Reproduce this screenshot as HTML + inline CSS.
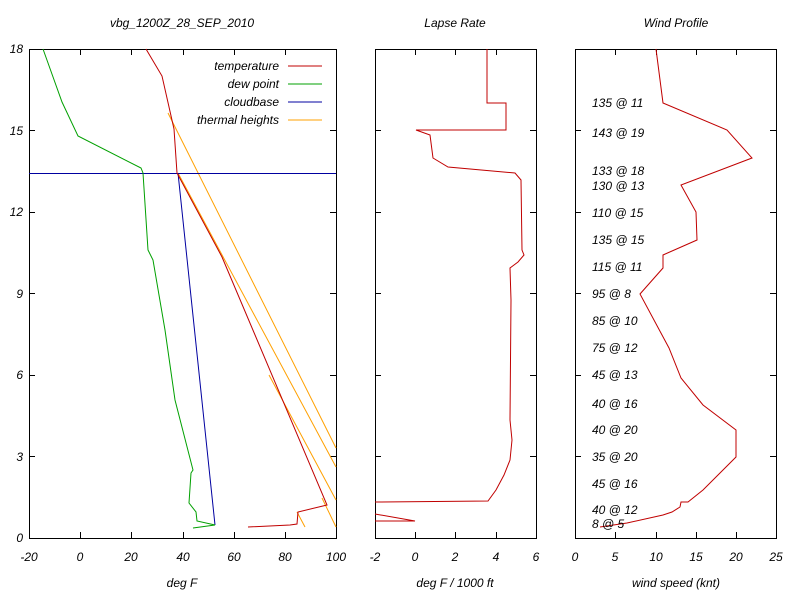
<!DOCTYPE html>
<html><head><style>body{margin:0;background:#fff}svg{display:block}text{font-family:"Liberation Sans",sans-serif;font-style:italic;font-size:12px;fill:#000}</style></head><body>
<svg width="803" height="601" viewBox="0 0 803 601">
<g fill="none" stroke="#000" stroke-width="1">
<rect x="29.5" y="49.5" width="307" height="489"/>
<rect x="375.5" y="49.5" width="161" height="489"/>
<rect x="575.5" y="49.5" width="201" height="489"/>
<path d="M29 130.5h6M29 212.5h6M29 293.5h6M29 375.5h6M29 456.5h6M336 130.5h-6M336 212.5h-6M336 293.5h-6M336 375.5h-6M336 456.5h-6
M375 130.5h6M375 212.5h6M375 293.5h6M375 375.5h6M375 456.5h6M536 130.5h-6M536 212.5h-6M536 293.5h-6M536 375.5h-6M536 456.5h-6
M575 130.5h6M575 212.5h6M575 293.5h6M575 375.5h6M575 456.5h6M776 130.5h-6M776 212.5h-6M776 293.5h-6M776 375.5h-6M776 456.5h-6
M80.5 538v-6M131.5 538v-6M183.5 538v-6M234.5 538v-6M285.5 538v-6M80.5 49v6M131.5 49v6M183.5 49v6M234.5 49v6M285.5 49v6
M415.5 538v-6M455.5 538v-6M496.5 538v-6M415.5 49v6M455.5 49v6M496.5 49v6
M615.5 538v-6M656.5 538v-6M696.5 538v-6M736.5 538v-6M615.5 49v6M656.5 49v6M696.5 49v6M736.5 49v6"/>
</g>
<g font-size="12">
<text x="23" y="53" text-anchor="end">18</text><text x="23" y="135" text-anchor="end">15</text><text x="23" y="216" text-anchor="end">12</text><text x="23" y="298" text-anchor="end">9</text><text x="23" y="379" text-anchor="end">6</text><text x="23" y="461" text-anchor="end">3</text><text x="23" y="542" text-anchor="end">0</text>
<text x="29" y="561" text-anchor="middle">-20</text><text x="80" y="561" text-anchor="middle">0</text><text x="131" y="561" text-anchor="middle">20</text><text x="183" y="561" text-anchor="middle">40</text><text x="234" y="561" text-anchor="middle">60</text><text x="285" y="561" text-anchor="middle">80</text><text x="336" y="561" text-anchor="middle">100</text>
<text x="375" y="561" text-anchor="middle">-2</text><text x="415" y="561" text-anchor="middle">0</text><text x="455" y="561" text-anchor="middle">2</text><text x="496" y="561" text-anchor="middle">4</text><text x="536" y="561" text-anchor="middle">6</text>
<text x="575" y="561" text-anchor="middle">0</text><text x="615" y="561" text-anchor="middle">5</text><text x="656" y="561" text-anchor="middle">10</text><text x="696" y="561" text-anchor="middle">15</text><text x="736" y="561" text-anchor="middle">20</text><text x="776" y="561" text-anchor="middle">25</text>
<text x="182" y="27" text-anchor="middle">vbg_1200Z_28_SEP_2010</text><text x="455" y="27" text-anchor="middle">Lapse Rate</text><text x="676" y="27" text-anchor="middle">Wind Profile</text>
<text x="182" y="587" text-anchor="middle">deg F</text><text x="455" y="587" text-anchor="middle">deg F / 1000 ft</text><text x="676" y="587" text-anchor="middle">wind speed (knt)</text>
<text x="279" y="70" text-anchor="end">temperature</text><text x="279" y="88" text-anchor="end">dew point</text><text x="279" y="106" text-anchor="end">cloudbase</text><text x="279" y="124" text-anchor="end">thermal heights</text>
</g>
<g fill="none" stroke-width="1">
<path d="M288 66h34" stroke="#c00000"/><path d="M288 84h34" stroke="#00a000"/><path d="M288 102h34" stroke="#0000a0"/><path d="M288 120h34" stroke="#ffa000"/>
<path d="M168 113L336 448M178 173L336 467M269 375L336 500M322 498L336 527M297 512L305 527" stroke="#ffa000"/>
<path d="M29 173.5H336M178 173L215 525" stroke="#0000a0"/>
<path d="M43 49L62 102L78 136L141 168L143 173L148 250L153 260L165 330L175 400L193 470L191 473L189 503L196 512L197 521L215 525L193 528" stroke="#00a000"/>
<path d="M146 49L162 76L174 129L177 173L222 257L327 505L298 512L297 524L290 525L248 527" stroke="#c00000"/>
<path d="M487 49L487 103L506 103L506 130L416 130L430 135L433 158L448 167L515 173L521 180L522 250L524 255L518 262L510 268L511 300L510 420L512 440L510 460L504 475L496 490L488 501L375 502M375 514L415 521L375 521" stroke="#c00000"/>
<path d="M656 49L663 103L727 130L752 158L681 185L696 212L697 240L663 255L663 268L640 294L669 348L681 378L703 405L736 430L736 457L703 490L688 502L681 502L680 507L672 512L663 515L627 523L600 527" stroke="#c00000"/>
</g>
<g font-size="12">
<text x="592" y="107">135 @ 11</text><text x="592" y="137">143 @ 19</text><text x="592" y="175">133 @ 18</text><text x="592" y="190">130 @ 13</text><text x="592" y="217">110 @ 15</text><text x="592" y="244">135 @ 15</text><text x="592" y="271">115 @ 11</text><text x="592" y="298">95 @ 8</text><text x="592" y="325">85 @ 10</text><text x="592" y="352">75 @ 12</text><text x="592" y="379">45 @ 13</text><text x="592" y="408">40 @ 16</text><text x="592" y="434">40 @ 20</text><text x="592" y="461">35 @ 20</text><text x="592" y="488">45 @ 16</text><text x="592" y="514">40 @ 12</text><text x="592" y="528">8 @ 5</text>
</g>
</svg>
</body></html>
